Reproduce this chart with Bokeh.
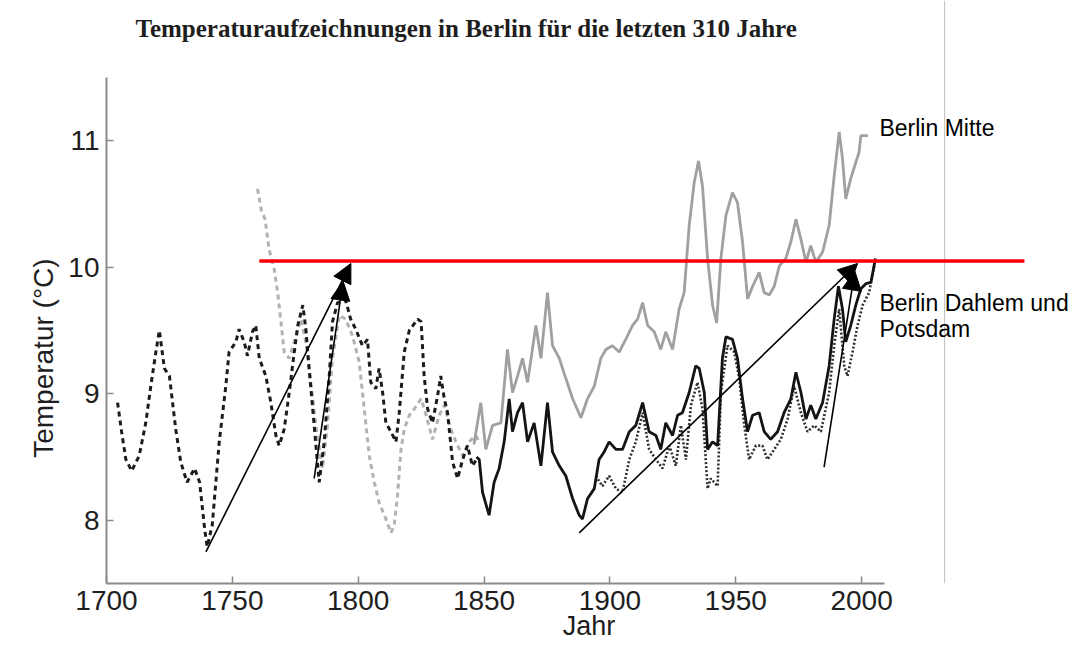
from bokeh.plotting import figure
from bokeh.models import Range1d, LinearAxis, FixedTicker, Arrow, NormalHead, Label, ColumnDataSource
from bokeh.embed import file_html
from bokeh.resources import INLINE

# ---------------- data ----------------
title_text = "Temperaturaufzeichnungen in Berlin für die letzten 310 Jahre"
x_label = "Jahr"
y_label = "Temperatur (°C)"
x_ticks = [1700, 1750, 1800, 1850, 1900, 1950, 2000]
y_ticks = [8, 9, 10, 11]

early_black_years = [1704.4, 1706, 1707.7, 1710, 1713, 1715.6, 1717.6, 1719.6, 1721, 1723,
                     1725, 1727.5, 1729.5, 1732, 1735, 1737, 1739, 1740, 1742, 1744.8,
                     1747.4, 1748.7, 1751.4, 1752.7, 1754.7, 1756, 1758, 1759.3, 1760.7, 1763.3,
                     1765.3, 1767.3, 1768.6, 1770.6, 1772.6, 1774.6, 1776, 1778, 1779.2, 1780.5,
                     1782.5, 1784.5, 1786.5, 1788.5, 1789.8, 1791.8, 1795, 1797, 1799, 1801.7,
                     1803.7, 1805, 1807, 1808.3, 1809.7, 1811, 1813, 1815, 1816.3, 1818.3,
                     1820.3, 1823.6, 1825, 1826.2, 1827.6, 1829.5, 1831.5, 1832.8, 1834.2, 1835.5,
                     1837.5, 1839.5, 1841.5, 1843.4, 1845.4, 1847.5]
early_black_temp = [8.93, 8.70, 8.48, 8.39, 8.51, 8.77, 9.06, 9.33, 9.50, 9.20,
                    9.14, 8.72, 8.46, 8.30, 8.41, 8.30, 7.93, 7.79, 7.96, 8.62,
                    9.06, 9.33, 9.41, 9.51, 9.41, 9.30, 9.49, 9.54, 9.28, 9.14,
                    8.93, 8.67, 8.59, 8.72, 9.01, 9.33, 9.54, 9.70, 9.51, 9.20,
                    8.75, 8.30, 8.62, 9.14, 9.57, 9.72, 9.74, 9.59, 9.51, 9.38,
                    9.43, 9.09, 9.04, 9.20, 9.01, 8.77, 8.70, 8.62, 8.85, 9.33,
                    9.50, 9.59, 9.57, 9.14, 8.88, 8.77, 8.98, 9.14, 8.96, 8.85,
                    8.46, 8.33, 8.48, 8.59, 8.43, 8.50]

early_gray_years = [1760, 1761.5, 1763, 1764.6, 1766.6, 1768, 1769.3, 1770.6, 1772.6, 1775.3,
                    1777.2, 1779.2, 1780.5, 1783.2, 1785.8, 1787.8, 1789.8, 1792.5, 1795, 1797.7,
                    1800.4, 1802.4, 1804.4, 1806.4, 1808.3, 1811, 1813, 1814.3, 1815.6, 1817,
                    1818.3, 1820.3, 1822.3, 1825, 1827, 1829.5, 1832.2, 1834.2, 1836.8, 1838.8,
                    1841.5, 1844, 1846.7, 1848]
early_gray_temp = [10.62, 10.45, 10.38, 10.14, 9.99, 9.80, 9.57, 9.33, 9.28, 9.46,
                   9.59, 9.41, 9.20, 8.75, 8.41, 8.75, 9.28, 9.62, 9.59, 9.46,
                   9.25, 8.88, 8.51, 8.30, 8.14, 8.01, 7.90, 7.96, 8.19, 8.56,
                   8.72, 8.83, 8.88, 8.96, 8.83, 8.64, 8.83, 8.91, 8.72, 8.62,
                   8.51, 8.62, 8.67, 8.62]

mitte_years = [1846, 1848.7, 1850.7, 1853.4, 1856.7, 1859.3, 1861.3, 1863.3, 1865.3, 1867.3,
               1870.6, 1872.6, 1875.2, 1877.2, 1879.9, 1882.5, 1885.2, 1888.5, 1891.1, 1893.8,
               1896.4, 1898.4, 1901, 1903.7, 1906.3, 1909, 1911, 1913, 1915, 1917.6,
               1920.2, 1922.2, 1924.9, 1927.5, 1929.5, 1931.5, 1933.5, 1935.2, 1936.8, 1938.8,
               1940.8, 1942.4, 1944.1, 1946.1, 1948.7, 1950.7, 1952.7, 1954.7, 1956.7, 1959.3,
               1961.3, 1963.3, 1965.3, 1967.3, 1969.9, 1971.9, 1973.9, 1975.9, 1977.9, 1979.8,
               1981.8, 1984.5, 1987.1, 1989.1, 1991.1, 1992.4, 1993.7, 1995.7, 1997.7, 1999,
               1999.7, 2002.5]
mitte_temp = [8.60, 8.93, 8.56, 8.75, 8.77, 9.35, 9.01, 9.14, 9.28, 9.09,
              9.54, 9.28, 9.80, 9.38, 9.28, 9.12, 8.96, 8.81, 8.96, 9.06,
              9.28, 9.35, 9.38, 9.33, 9.43, 9.54, 9.59, 9.72, 9.54, 9.49,
              9.35, 9.49, 9.35, 9.67, 9.80, 10.33, 10.67, 10.84, 10.64, 10.07,
              9.70, 9.56, 10.07, 10.41, 10.59, 10.51, 10.20, 9.75, 9.85, 9.96,
              9.80, 9.78, 9.85, 10.01, 10.07, 10.20, 10.38, 10.22, 10.04, 10.17,
              10.04, 10.12, 10.33, 10.72, 11.07, 10.86, 10.54, 10.70, 10.83, 10.91,
              11.04, 11.04]

dahlem_years = [1847, 1848.1, 1849.4, 1852, 1854, 1856, 1858, 1860, 1861.3, 1863.3,
                1865.3, 1867.3, 1869.9, 1872.6, 1875.2, 1877.2, 1879.9, 1882.5, 1885.2, 1887.8,
                1889.1, 1891.1, 1893.8, 1895.7, 1897.7, 1899.7, 1902.4, 1905, 1907.7, 1910.3,
                1913, 1915.6, 1918.3, 1920.2, 1922.2, 1924.9, 1926.9, 1928.8, 1931.5, 1934.1,
                1935.5, 1937.5, 1938.8, 1940.8, 1942.8, 1944.7, 1946.1, 1948.7, 1950.7, 1952.7,
                1954.7, 1956.7, 1959.3, 1961.3, 1963.9, 1966.6, 1969.2, 1971.9, 1973.9, 1975.9,
                1977.9, 1979.8, 1981.8, 1984.5, 1987.1, 1989.1, 1990.8, 1992.4, 1993.7, 1995.7,
                1997.7, 1999.7, 2001.7, 2003.7, 2005.5]
dahlem_temp = [8.50, 8.48, 8.22, 8.04, 8.30, 8.41, 8.62, 8.96, 8.70, 8.85,
               8.93, 8.62, 8.77, 8.43, 8.93, 8.54, 8.43, 8.35, 8.17, 8.04,
               8.01, 8.17, 8.25, 8.48, 8.54, 8.62, 8.56, 8.56, 8.70, 8.75,
               8.93, 8.70, 8.67, 8.56, 8.77, 8.67, 8.83, 8.85, 9.01, 9.22,
               9.20, 9.01, 8.56, 8.62, 8.59, 9.28, 9.45, 9.43, 9.28, 8.96,
               8.70, 8.83, 8.85, 8.70, 8.64, 8.70, 8.85, 8.96, 9.17, 9.01,
               8.80, 8.91, 8.80, 8.93, 9.22, 9.59, 9.85, 9.67, 9.41, 9.54,
               9.70, 9.83, 9.87, 9.88, 10.07]

potsdam_years = [1894.4, 1897, 1899.7, 1902.4, 1905, 1907.7, 1910.3, 1913, 1915.6, 1918.3,
                 1920.9, 1923.6, 1926.2, 1928.2, 1930.2, 1932.2, 1934.8, 1936.8, 1938.8, 1940.1,
                 1942.8, 1944.1, 1946.7, 1949.4, 1951.4, 1953.4, 1955.3, 1958, 1960.6, 1962.6,
                 1965.3, 1967.9, 1970.6, 1973.2, 1975.9, 1978.5, 1981.2, 1983.8, 1987.1, 1989.1,
                 1991.1, 1993.1, 1994.4, 1996.4, 1998.4, 2000.4, 2003, 2005]
potsdam_temp = [8.35, 8.27, 8.35, 8.25, 8.22, 8.48, 8.62, 8.85, 8.56, 8.48,
                8.41, 8.59, 8.43, 8.75, 8.48, 8.91, 9.09, 8.88, 8.25, 8.33,
                8.27, 9.01, 9.38, 9.33, 9.12, 8.75, 8.48, 8.59, 8.59, 8.48,
                8.56, 8.64, 8.80, 9.06, 8.85, 8.70, 8.75, 8.70, 9.01, 9.38,
                9.67, 9.22, 9.14, 9.33, 9.54, 9.70, 9.80, 10.01]

ref_line_years = [1760.7, 2064.7]
ref_line_temp = [10.05, 10.05]

arrow_year_start = [1739.5, 1782.5, 1887.8, 1985.1]
arrow_temp_start = [7.75, 8.33, 7.90, 8.42]
arrow_year_end = [1797.1, 1794.0, 1998.4, 1997.3]
arrow_temp_end = [10.03, 9.89, 10.03, 9.97]

series_labels = ["Berlin Mitte", "Berlin Dahlem und", "Potsdam"]

# ---------------- layout ----------------
W, H = 1071, 644
LEFT, BOTTOM = 106, 61
PX_PER_YEAR = 2.517
PX_PER_DEG = 126.5
x_end = 1700 + (W - LEFT) / PX_PER_YEAR
y_top = 7.5 + (H - BOTTOM) / PX_PER_DEG

p = figure(width=W, height=H, output_backend="svg", toolbar_location=None,
           x_range=Range1d(1700, x_end), y_range=Range1d(7.5, y_top),
           x_axis_type=None, y_axis_type=None,
           min_border_left=LEFT, min_border_right=0, min_border_top=0,
           min_border_bottom=BOTTOM)
p.outline_line_color = None
p.background_fill_color = "white"
p.border_fill_color = "white"

FONT = "Liberation Sans"
AX_COL = "#8a8a8a"
TXT_COL = "#1e1e1e"

# the y label sits lower than the frame centre: pad its upper end
y_label_padded = y_label + "\u00a0" * 17

xaxis = LinearAxis(bounds=(1700, 2009), ticker=FixedTicker(ticks=x_ticks),
                   major_tick_in=7, major_tick_out=0, minor_tick_in=0, minor_tick_out=0,
                   axis_line_color=AX_COL, axis_line_width=2,
                   major_tick_line_color=AX_COL, major_tick_line_width=1.5,
                   major_label_text_font=FONT, major_label_text_font_size="28px",
                   major_label_text_color=TXT_COL, major_label_standoff=7,
                   axis_label=x_label, axis_label_text_font=FONT,
                   axis_label_text_font_size="27px", axis_label_text_font_style="normal",
                   axis_label_text_color=TXT_COL, axis_label_standoff=-2)
yaxis = LinearAxis(bounds=(7.5, 11.5), ticker=FixedTicker(ticks=y_ticks),
                   major_tick_in=7, major_tick_out=0, minor_tick_in=0, minor_tick_out=0,
                   axis_line_color=AX_COL, axis_line_width=2,
                   major_tick_line_color=AX_COL, major_tick_line_width=1.5,
                   major_label_text_font=FONT, major_label_text_font_size="28px",
                   major_label_text_color=TXT_COL, major_label_standoff=7,
                   axis_label=y_label_padded, axis_label_text_font=FONT,
                   axis_label_text_font_size="28px", axis_label_text_font_style="normal",
                   axis_label_text_color=TXT_COL, axis_label_standoff=6)
p.add_layout(xaxis, "below")
p.add_layout(yaxis, "left")

# embedded-figure frame edge on the right
p.line(x=[2033, 2033], y=[7.5, y_top], line_color="#bdbdbd", line_width=1)

# curves
p.line(early_gray_years, early_gray_temp, line_color="#b2b2b2", line_width=3, line_dash="5 4")
p.line(mitte_years, mitte_temp, line_color="#a0a0a0", line_width=2.8)
p.line(early_black_years, early_black_temp, line_color="#1c1c1c", line_width=3, line_dash="5 4")
p.line(potsdam_years, potsdam_temp, line_color="#2e2e2e", line_width=2.6, line_dash="2 2")
p.line(dahlem_years, dahlem_temp, line_color="#141414", line_width=2.8)

# red reference line
p.line(ref_line_years, ref_line_temp, line_color="#ff0000", line_width=3.5)

# arrows
arrow_src = ColumnDataSource(dict(x0=arrow_year_start, y0=arrow_temp_start,
                                  x1=arrow_year_end, y1=arrow_temp_end))
p.add_layout(Arrow(source=arrow_src, x_start="x0", y_start="y0", x_end="x1", y_end="y1",
                   line_color="black", line_width=1.6,
                   end=NormalHead(size=19, fill_color="black", line_color="black")))

# texts inside the frame
p.add_layout(Label(x=1843.0, y=11.890, text=title_text, text_align="center",
                   text_baseline="alphabetic", text_font="Liberation Serif",
                   text_font_style="bold", text_font_size="25px", text_color=TXT_COL))
p.add_layout(Label(x=2007.1, y=11.10, text=series_labels[0], text_baseline="middle",
                   text_font=FONT, text_font_size="23px", text_color="black"))
p.add_layout(Label(x=2007.1, y=9.72, text=series_labels[1], text_baseline="middle",
                   text_font=FONT, text_font_size="23px", text_color="black"))
p.add_layout(Label(x=2007.1, y=9.51, text=series_labels[2], text_baseline="middle",
                   text_font=FONT, text_font_size="23px", text_color="black"))

open("out.html", "w").write(file_html(p, INLINE))
